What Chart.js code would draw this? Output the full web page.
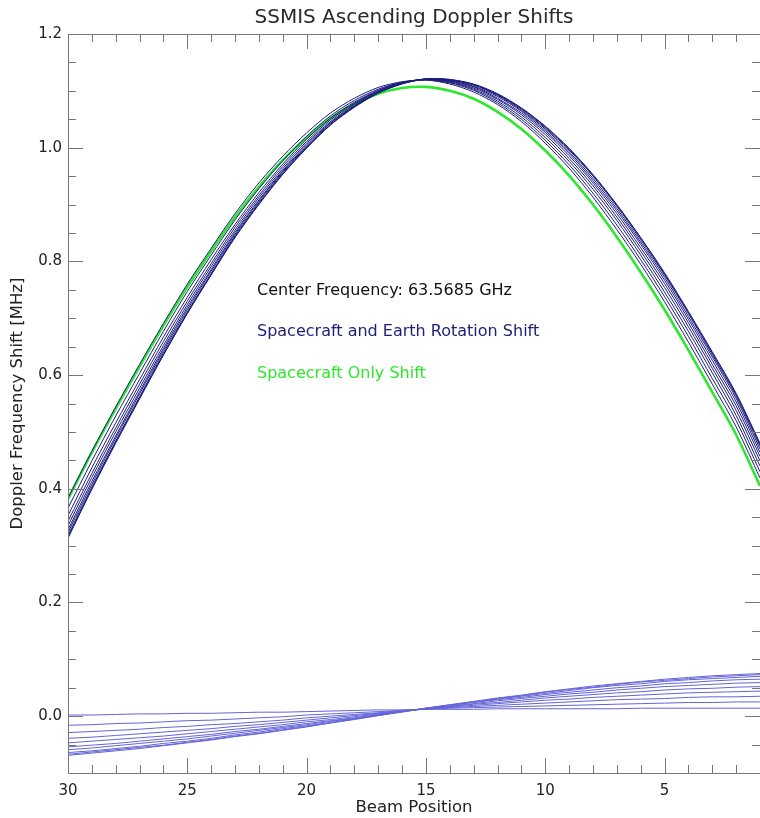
<!DOCTYPE html>
<html>
<head>
<meta charset="utf-8">
<script src="https://cdn.jsdelivr.net/npm/chart.js@4.4.1/dist/chart.umd.min.js"></script>
<style>
html,body{margin:0;padding:0;background:#fff;}
#wrap{width:760px;height:818px;}
</style>
</head>
<body>
<div id="wrap"><canvas id="dopplerChart" width="760" height="818"></canvas></div>
<script>
// beam positions and shifts (MHz)
const beams=[1,2,3,4,5,6,7,8,9,10,11,12,13,14,15,16,17,18,19,20,21,22,23,24,25,26,27,28,29,30];

const spacecraftOnly=[0.405,0.495,0.570,0.644,0.715,0.781,0.843,0.900,0.951,0.995,1.033,1.063,1.086,1.100,1.107,1.105,1.095,1.077,1.052,1.018,0.978,0.931,0.878,0.818,0.755,0.687,0.615,0.541,0.464,0.382];

// spacecraft + earth rotation
const combined0=[0.419,0.509,0.584,0.658,0.729,0.795,0.856,0.913,0.964,1.008,1.046,1.076,1.098,1.112,1.119,1.116,1.106,1.087,1.061,1.026,0.985,0.938,0.884,0.823,0.760,0.691,0.619,0.544,0.466,0.384];
const combined1=[0.430,0.520,0.594,0.668,0.738,0.803,0.864,0.920,0.970,1.013,1.050,1.079,1.101,1.114,1.119,1.115,1.103,1.083,1.056,1.020,0.977,0.928,0.873,0.811,0.747,0.677,0.603,0.528,0.449,0.366];
const combined2=[0.440,0.529,0.604,0.677,0.746,0.811,0.872,0.927,0.976,1.018,1.054,1.082,1.103,1.115,1.120,1.115,1.101,1.080,1.052,1.015,0.971,0.921,0.865,0.803,0.737,0.667,0.592,0.516,0.437,0.353];
const combined3=[0.449,0.538,0.612,0.685,0.754,0.818,0.878,0.933,0.981,1.023,1.058,1.085,1.105,1.116,1.120,1.114,1.100,1.078,1.049,1.011,0.967,0.916,0.860,0.796,0.730,0.659,0.584,0.507,0.427,0.343];
const combined4=[0.457,0.546,0.619,0.692,0.761,0.824,0.884,0.938,0.986,1.027,1.061,1.087,1.107,1.117,1.120,1.114,1.099,1.076,1.046,1.008,0.963,0.912,0.855,0.791,0.724,0.652,0.577,0.500,0.420,0.335];
const combined5=[0.464,0.553,0.626,0.698,0.767,0.830,0.889,0.942,0.990,1.030,1.064,1.090,1.108,1.118,1.120,1.113,1.098,1.074,1.044,1.005,0.960,0.908,0.851,0.786,0.719,0.647,0.571,0.493,0.413,0.328];
const combined6=[0.470,0.559,0.632,0.703,0.772,0.834,0.893,0.946,0.993,1.033,1.066,1.092,1.110,1.119,1.121,1.113,1.097,1.073,1.043,1.003,0.958,0.906,0.848,0.783,0.715,0.643,0.567,0.489,0.408,0.323];
const combined7=[0.475,0.563,0.636,0.708,0.776,0.838,0.897,0.950,0.996,1.035,1.068,1.093,1.111,1.119,1.121,1.113,1.097,1.072,1.041,1.001,0.956,0.903,0.845,0.779,0.711,0.639,0.562,0.484,0.403,0.318];
const combined8=[0.478,0.566,0.639,0.710,0.778,0.841,0.899,0.951,0.998,1.037,1.069,1.094,1.111,1.120,1.121,1.113,1.096,1.072,1.040,1.000,0.954,0.901,0.843,0.777,0.709,0.636,0.560,0.482,0.401,0.315];
const combined9=[0.480,0.568,0.641,0.712,0.780,0.842,0.900,0.953,0.999,1.038,1.070,1.095,1.112,1.120,1.121,1.112,1.096,1.071,1.040,0.999,0.953,0.900,0.842,0.776,0.708,0.635,0.558,0.480,0.399,0.313];

// earth rotation part alone
const earth0=[0.014,0.014,0.014,0.014,0.014,0.014,0.013,0.013,0.013,0.013,0.013,0.013,0.012,0.012,0.012,0.011,0.011,0.010,0.009,0.008,0.007,0.007,0.006,0.005,0.005,0.004,0.004,0.003,0.002,0.002];
const earth1=[0.025,0.025,0.024,0.024,0.023,0.022,0.021,0.020,0.019,0.018,0.017,0.016,0.015,0.014,0.012,0.010,0.008,0.006,0.004,0.002,-0.001,-0.003,-0.005,-0.007,-0.008,-0.010,-0.012,-0.013,-0.015,-0.016];
const earth2=[0.035,0.034,0.034,0.033,0.031,0.030,0.029,0.027,0.025,0.023,0.021,0.019,0.017,0.015,0.013,0.010,0.006,0.003,0.000,-0.003,-0.007,-0.010,-0.013,-0.015,-0.018,-0.020,-0.023,-0.025,-0.027,-0.029];
const earth3=[0.044,0.043,0.042,0.041,0.039,0.037,0.035,0.033,0.030,0.028,0.025,0.022,0.019,0.016,0.013,0.009,0.005,0.001,-0.003,-0.007,-0.011,-0.015,-0.018,-0.022,-0.025,-0.028,-0.031,-0.034,-0.037,-0.039];
const earth4=[0.052,0.051,0.049,0.048,0.046,0.043,0.041,0.038,0.035,0.032,0.028,0.024,0.021,0.017,0.013,0.009,0.004,-0.001,-0.006,-0.010,-0.015,-0.019,-0.023,-0.027,-0.031,-0.035,-0.038,-0.041,-0.044,-0.047];
const earth5=[0.059,0.058,0.056,0.054,0.052,0.049,0.046,0.042,0.039,0.035,0.031,0.027,0.022,0.018,0.013,0.008,0.003,-0.003,-0.008,-0.013,-0.018,-0.023,-0.027,-0.032,-0.036,-0.040,-0.044,-0.048,-0.051,-0.054];
const earth6=[0.065,0.064,0.062,0.059,0.057,0.053,0.050,0.046,0.042,0.038,0.033,0.029,0.024,0.019,0.014,0.008,0.002,-0.004,-0.009,-0.015,-0.020,-0.025,-0.030,-0.035,-0.040,-0.044,-0.048,-0.052,-0.056,-0.059];
const earth7=[0.070,0.068,0.066,0.064,0.061,0.057,0.054,0.050,0.045,0.040,0.035,0.030,0.025,0.019,0.014,0.008,0.002,-0.005,-0.011,-0.017,-0.022,-0.028,-0.033,-0.039,-0.044,-0.048,-0.053,-0.057,-0.061,-0.064];
const earth8=[0.073,0.071,0.069,0.066,0.063,0.060,0.056,0.051,0.047,0.042,0.036,0.031,0.025,0.020,0.014,0.008,0.001,-0.005,-0.012,-0.018,-0.024,-0.030,-0.035,-0.041,-0.046,-0.051,-0.055,-0.059,-0.063,-0.067];
const earth9=[0.075,0.073,0.071,0.068,0.065,0.061,0.057,0.053,0.048,0.043,0.037,0.032,0.026,0.020,0.014,0.007,0.001,-0.006,-0.012,-0.019,-0.025,-0.031,-0.036,-0.042,-0.047,-0.052,-0.057,-0.061,-0.065,-0.069];

const xTicks=[30,25,20,15,10,5];
const xMinorTicks=[2,3,4,5,6,7,8,9,10,11,12,13,14,15,16,17,18,19,20,21,22,23,24,25,26,27,28,29];
const yTicks=[0.0,0.2,0.4,0.6,0.8,1.0,1.2];
const yMinorTicks=[-0.05,0.0,0.05,0.1,0.15,0.2,0.25,0.3,0.35,0.4,0.45,0.5,0.55,0.6,0.65,0.7,0.75,0.8,0.85,0.9,0.95,1.0,1.05,1.1,1.15];

const notes=["Center Frequency: 63.5685 GHz","Spacecraft and Earth Rotation Shift","Spacecraft Only Shift"];

const combinedSeries=[combined0,combined1,combined2,combined3,combined4,combined5,combined6,combined7,combined8,combined9];
const earthSeries=[earth0,earth1,earth2,earth3,earth4,earth5,earth6,earth7,earth8,earth9];

const toPoints=vals=>vals.map((v,i)=>({x:beams[i],y:v}));

const datasets=[];
earthSeries.forEach((s,i)=>{
datasets.push({label:"earth"+i,data:toPoints(s),borderColor:"#6464d8",borderWidth:1,pointRadius:0,tension:0});
});
combinedSeries.forEach((s,i)=>{
datasets.push({label:"total"+i,data:toPoints(s),borderColor:"#1c1c7e",borderWidth:1,pointRadius:0,tension:0.3});
});
datasets.push({label:"Spacecraft Only Shift",data:toPoints(spacecraftOnly),borderColor:"#2ee62e",borderWidth:2.6,pointRadius:0,tension:0.3});

// IDL style frame with inward ticks, plus the text notes
const frameTicks={
id:"frameTicks",
afterDraw(chart){
const {ctx,chartArea:a,scales:{x,y}}=chart;
ctx.save();
ctx.strokeStyle="#777";
ctx.lineWidth=1;
ctx.beginPath();
ctx.rect(Math.round(a.left)+0.5,Math.round(a.top)+0.5,Math.round(a.right-a.left),Math.round(a.bottom-a.top));
xMinorTicks.concat(xTicks).forEach(v=>{
const px=Math.round(x.getPixelForValue(v))+0.5;
const len=xTicks.includes(v)?15:8;
ctx.moveTo(px,a.bottom);ctx.lineTo(px,a.bottom-len);
ctx.moveTo(px,a.top);ctx.lineTo(px,a.top+len);
});
yMinorTicks.concat(yTicks).forEach(v=>{
const py=Math.round(y.getPixelForValue(v))+0.5;
const len=yTicks.includes(v)?15:8;
ctx.moveTo(a.left,py);ctx.lineTo(a.left+len,py);
ctx.moveTo(a.right,py);ctx.lineTo(a.right-len,py);
});
ctx.stroke();

ctx.font="16px 'DejaVu Sans'";
ctx.textBaseline="alphabetic";
ctx.textAlign="left";
const colors=["#111","#1e1e78","#2ee62e"];
const base=[295,336,378];
notes.forEach((t,i)=>{
ctx.fillStyle=colors[i];
ctx.fillText(t,257,base[i]);
});
ctx.restore();
}
};

new Chart(document.getElementById("dopplerChart"),{
type:"line",
data:{datasets:datasets},
options:{
responsive:false,
animation:false,
devicePixelRatio:1,
layout:{padding:{left:0,right:0,top:0,bottom:0}},
plugins:{
legend:{display:false},
tooltip:{enabled:false},
title:{
display:true,
text:"SSMIS Ascending Doppler Shifts",
fullSize:false,
color:"#2a2a2a",
font:{family:"DejaVu Sans",size:20,weight:"normal"},
padding:{top:6,bottom:4}
}
},
scales:{
x:{
type:"linear",
min:1,
max:30,
reverse:true,
afterBuildTicks:s=>{s.ticks=xTicks.map(v=>({value:v}));},
afterFit:s=>{s.height=45;},
grid:{display:false,drawTicks:false},
border:{display:false},
ticks:{color:"#222",padding:9,font:{family:"DejaVu Sans",size:15},callback:v=>String(v)},
title:{display:true,text:"Beam Position",color:"#222",font:{family:"DejaVu Sans",size:16.5},padding:{top:0,bottom:0}}
},
y:{
min:-0.1,
max:1.2,
afterBuildTicks:s=>{s.ticks=yTicks.map(v=>({value:v}));},
afterFit:s=>{s.width=68;},
grid:{display:false,drawTicks:false},
border:{display:false},
ticks:{color:"#222",padding:6,font:{family:"DejaVu Sans",size:15},callback:v=>v.toFixed(1)},
title:{display:true,text:"Doppler Frequency Shift [MHz]",color:"#222",font:{family:"DejaVu Sans",size:16.5},padding:{top:8,bottom:0}}
}
}
},
plugins:[frameTicks]
});
</script>
</body>
</html>
